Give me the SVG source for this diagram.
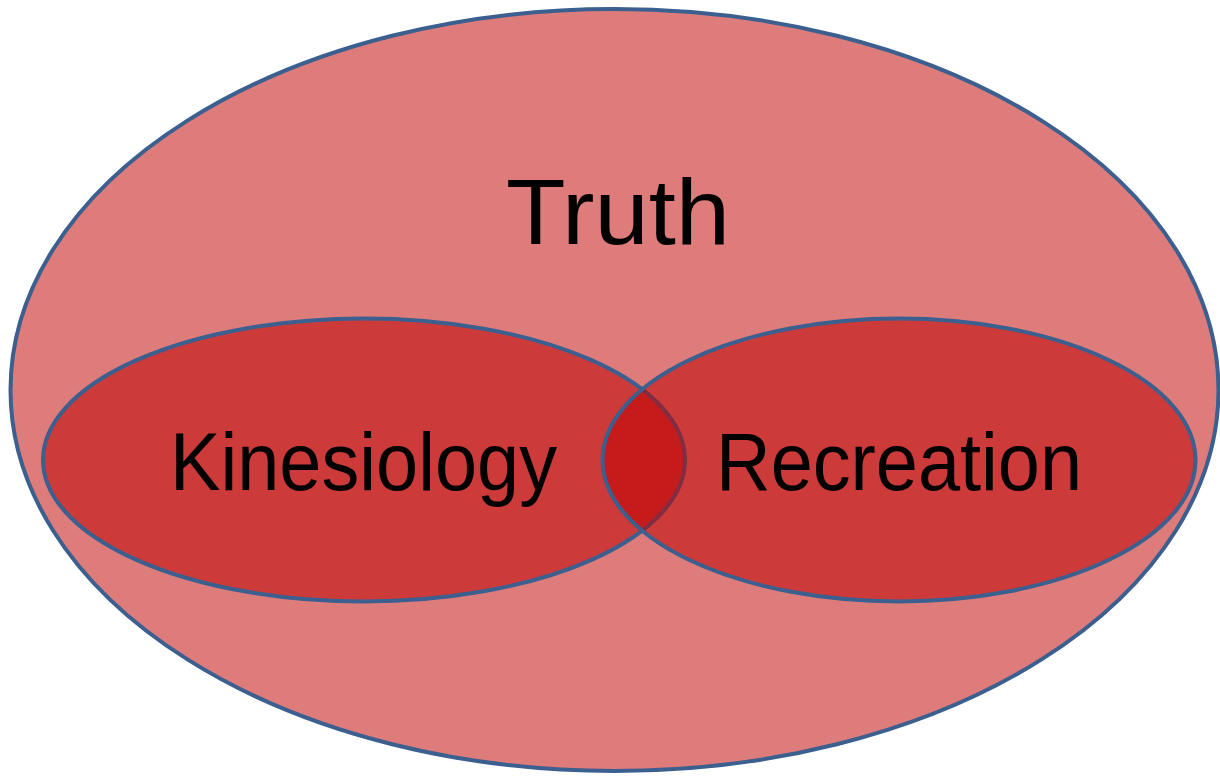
<svg xmlns="http://www.w3.org/2000/svg" width="1220" height="776" viewBox="0 0 1220 776">
<style>
.st{stroke:#3B5F8E;stroke-width:4}
.inner{fill:#BE0000;fill-opacity:0.53}
.lbl{font-family:"Liberation Sans",Arial,sans-serif;fill:#000;text-anchor:middle}
</style>
<rect width="1220" height="776" fill="#FFFFFF"/>
<g id="truth">
<ellipse cx="614.5" cy="390" rx="604" ry="381" fill="#DE7C7C" class="st"/>
<text class="lbl" x="618" y="244" font-size="92" textLength="224" lengthAdjust="spacingAndGlyphs">Truth</text>
</g>
<g id="kinesiology">
<ellipse cx="364" cy="460" rx="321" ry="141.5" class="inner st"/>
</g>
<g id="recreation">
<ellipse cx="899" cy="460" rx="296.5" ry="141.5" class="inner st"/>
</g>
<g id="labels">
<text class="lbl" x="363.5" y="490" font-size="81" textLength="387" lengthAdjust="spacingAndGlyphs">Kinesiology</text>
<text class="lbl" x="899" y="490" font-size="81" textLength="366" lengthAdjust="spacingAndGlyphs">Recreation</text>
</g>
<g id="connectors"/>
</svg>
